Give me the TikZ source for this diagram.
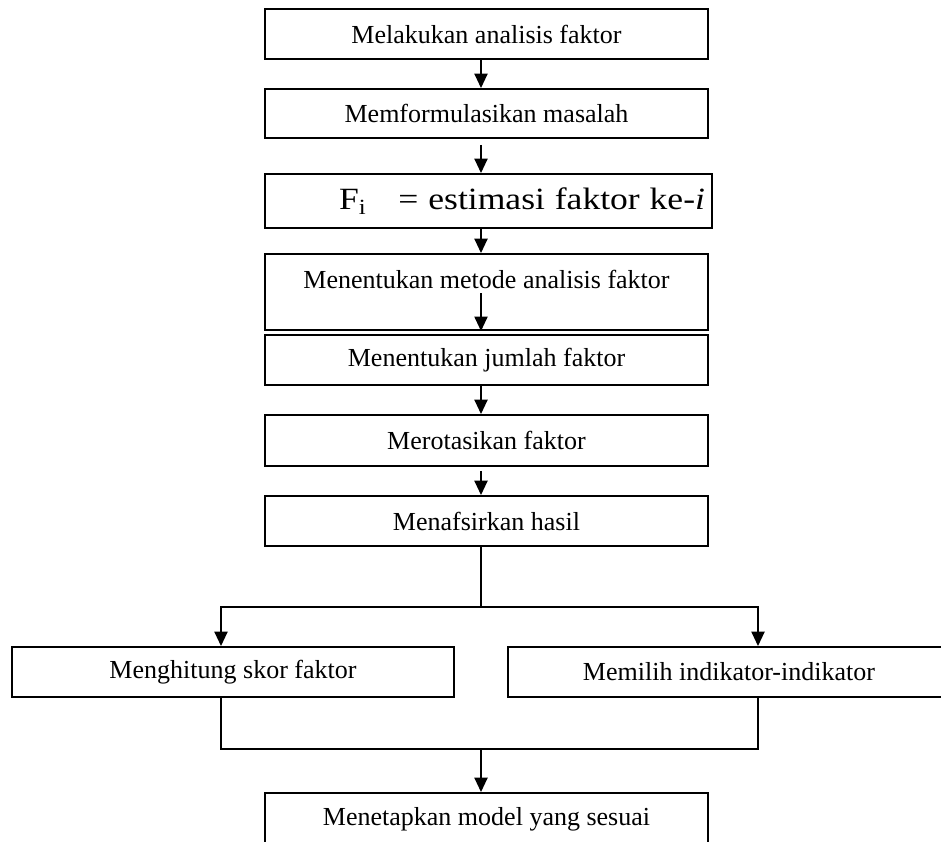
\documentclass[tikz,border=0pt]{standalone}
\usepackage{fontspec}
\setmainfont{Liberation Serif}
\newfontfamily\widefont[FakeStretch=1.15]{Liberation Serif}
\usetikzlibrary{positioning,arrows.meta}

\begin{document}
\begin{tikzpicture}
    [%%%%%%%%%%%%%%%%%%%%%%%%%%%%%%
    box/.style={rectangle,draw=black,line width=1.4pt,minimum width=11.075cm,minimum height=1.25cm,inner sep=0pt,font=\fontsize{18.5}{22}\selectfont},
    boxtext/.style={font=\fontsize{18.5}{22}\selectfont},
    link/.style={line width=1.1pt},
    flow/.style={link,-{Triangle[width=0.33cm,length=0.36cm]}},
    ]%%%%%%%%%%%%%%%%%%%%%%%%%%%%%%

    \useasboundingbox (0,0) rectangle (23.525,-21.05);
    \clip (0,0) rectangle (23.525,-21.05);

    % steps
    \node[box] at (12.1625,-0.85) (analysis) {Melakukan analisis faktor};
    \node[box,minimum height=1.225cm] at (12.1625,-2.8375) (problem) {Memformulasikan masalah};
    \node[box,minimum width=11.175cm,minimum height=1.35cm,text width=10.825cm,align=right,font=\widefont\fontsize{22}{26}\selectfont] at (12.2125,-5.025) (estimate) {\spaceskip=0.32em\relax F\textsubscript{i}\hspace{0.8cm}= estimasi faktor ke-\textit{i}};
    \node[box,minimum height=1.9cm] at (12.1625,-7.3) (method) {};
    \node[boxtext] at (12.1625,-6.975) (method_text) {Menentukan metode analisis faktor};
    \node[box] at (12.1625,-9.0) (number) {Menentukan jumlah faktor};
    \node[box,minimum height=1.275cm] at (12.1625,-11.0125) (rotation) {Merotasikan faktor};
    \node[box] at (12.1625,-13.025) (interpret) {Menafsirkan hasil};

    % branches
    \node[box,minimum width=11.05cm] at (5.825,-16.8) (score) {Menghitung skor faktor};
    \node[box,minimum width=11.05cm] at (18.225,-16.8) (indicator) {Memilih indikator-indikator};
    \node[box,minimum height=1.3cm] at (12.1625,-20.475) (model) {Menetapkan model yang sesuai};

    \coordinate (spine) at (12.025,0);
    \coordinate (split) at (12.025,-15.175);
    \coordinate (merge) at (12.025,-18.725);
    \coordinate (lbranch) at (5.525,-15.175);
    \coordinate (rbranch) at (18.95,-15.175);

    % arrows
    \draw[flow] (analysis.south -| spine) -- (problem.north -| spine);
    \draw[flow,shorten <=0.15cm] (problem.south -| spine) -- (estimate.north -| spine);
    \draw[flow] (estimate.south -| spine) -- (method.north -| spine);
    \draw[flow] (method_text.south -| spine) -- (method.south -| spine);
    \draw[flow] (number.south -| spine) -- (rotation.north -| spine);
    \draw[flow,shorten <=0.1cm] (rotation.south -| spine) -- (interpret.north -| spine);

    \draw[link] (interpret.south -| spine) -- (split);
    \draw[flow] (split) -| (score.north -| lbranch);
    \draw[flow] (split) -| (indicator.north -| rbranch);
    \draw[link] (score.south -| lbranch) |- (merge);
    \draw[link] (indicator.south -| rbranch) |- (merge);
    \draw[flow] (merge) -- (model.north -| spine);
\end{tikzpicture}
\end{document}
